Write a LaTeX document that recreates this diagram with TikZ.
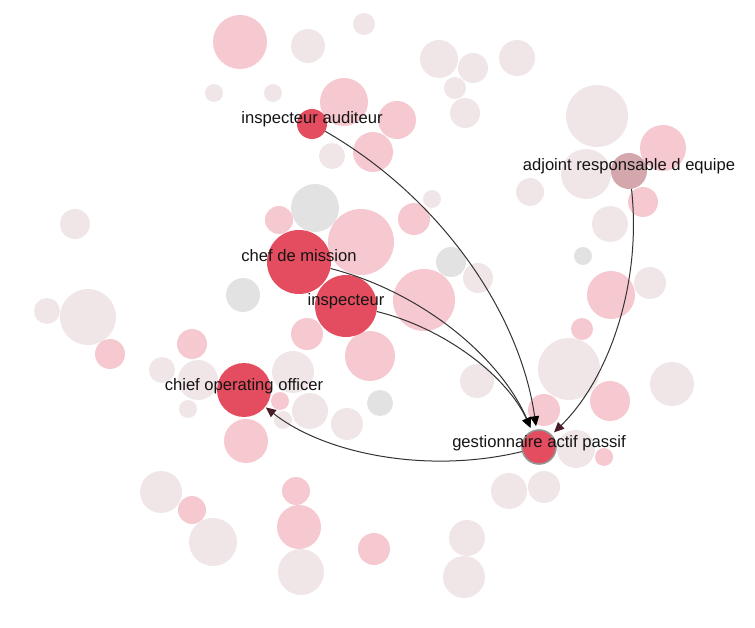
\documentclass[tikz,border=0pt]{standalone}
\usepackage{fontspec}
\setmainfont{Liberation Sans}
\usetikzlibrary{arrows.meta}
\definecolor{bubbleRed}{HTML}{E44D5F}
\definecolor{bubblePink}{HTML}{F6C8CF}
\definecolor{bubblePale}{HTML}{F0E6E8}
\definecolor{bubbleGrey}{HTML}{E2E2E2}
\definecolor{bubbleMauve}{HTML}{D4A7AC}
\definecolor{linkDark}{HTML}{333333}
\definecolor{tipMaroon}{HTML}{4A1C26}

\begin{document}
\begin{tikzpicture}[x=1pt,y=-1pt,
    role/.style={circle,fill=bubbleRed,inner sep=0pt,minimum size=#1},
    rolelabel/.style={anchor=base,inner sep=0pt,text=black!92,font=\fontsize{16.6}{19}\selectfont},
    link/.style={draw=linkDark,line width=1pt,bend left=26,looseness=.9,shorten >=21pt,
      -{Triangle[length=10pt,width=9pt,color=black]}},
    warmlink/.style={link,-{Triangle[length=10pt,width=9pt,color=tipMaroon]}}]
    \useasboundingbox (0,0) rectangle (755,628);
    % pale bubbles
    \fill[bubblePale] (308,46) circle[radius=17];
    \fill[bubblePale] (364,24) circle[radius=11];
    \fill[bubblePale] (214,93) circle[radius=9];
    \fill[bubblePale] (273,93) circle[radius=9];
    \fill[bubblePale] (332,156) circle[radius=13];
    \fill[bubblePale] (439,59) circle[radius=19];
    \fill[bubblePale] (473,68) circle[radius=15];
    \fill[bubblePale] (455,88) circle[radius=11];
    \fill[bubblePale] (465,113) circle[radius=15];
    \fill[bubblePale] (517,58) circle[radius=18];
    \fill[bubblePale] (597,116) circle[radius=31];
    \fill[bubblePale] (432,199) circle[radius=9];
    \fill[bubblePale] (478,278) circle[radius=15];
    \fill[bubblePale] (530,192) circle[radius=14];
    \fill[bubblePale] (586,174) circle[radius=25];
    \fill[bubblePale] (610,224) circle[radius=18];
    \fill[bubblePale] (650,283) circle[radius=16];
    \fill[bubblePale] (569,369) circle[radius=31];
    \fill[bubblePale] (672,384) circle[radius=22];
    \fill[bubblePale] (477,381) circle[radius=17];
    \fill[bubblePale] (576,449) circle[radius=19];
    \fill[bubblePale] (509,491) circle[radius=18];
    \fill[bubblePale] (544,487) circle[radius=16];
    \fill[bubblePale] (467,538) circle[radius=18];
    \fill[bubblePale] (464,577) circle[radius=21];
    \fill[bubblePale] (75,224) circle[radius=15];
    \fill[bubblePale] (88,317) circle[radius=28];
    \fill[bubblePale] (47,311) circle[radius=13];
    \fill[bubblePale] (162,370) circle[radius=13];
    \fill[bubblePale] (198,380) circle[radius=20];
    \fill[bubblePale] (188,409) circle[radius=9];
    \fill[bubblePale] (293,372) circle[radius=21];
    \fill[bubblePale] (310,411) circle[radius=18];
    \fill[bubblePale] (347,424) circle[radius=16];
    \fill[bubblePale] (283,420) circle[radius=9];
    \fill[bubblePale] (161,492) circle[radius=21];
    \fill[bubblePale] (213,542) circle[radius=24];
    \fill[bubblePale] (301,572) circle[radius=23];
    % pink bubbles
    \fill[bubblePink] (240,42) circle[radius=27];
    \fill[bubblePink] (344,102) circle[radius=24];
    \fill[bubblePink] (397,120) circle[radius=19];
    \fill[bubblePink] (373,152) circle[radius=20];
    \fill[bubblePink] (279,220) circle[radius=14];
    \fill[bubblePink] (361,242) circle[radius=33];
    \fill[bubblePink] (414,219) circle[radius=16];
    \fill[bubblePink] (424,300) circle[radius=31];
    \fill[bubblePink] (307,334) circle[radius=16];
    \fill[bubblePink] (370,356) circle[radius=25];
    \fill[bubblePink] (192,344) circle[radius=15];
    \fill[bubblePink] (110,354) circle[radius=15];
    \fill[bubblePink] (280,401) circle[radius=9];
    \fill[bubblePink] (246,441) circle[radius=22];
    \fill[bubblePink] (663,148) circle[radius=23];
    \fill[bubblePink] (643,202) circle[radius=15];
    \fill[bubblePink] (611,295) circle[radius=24];
    \fill[bubblePink] (582,329) circle[radius=11];
    \fill[bubblePink] (544,410) circle[radius=16];
    \fill[bubblePink] (610,401) circle[radius=20];
    \fill[bubblePink] (604,457) circle[radius=9];
    \fill[bubblePink] (192,510) circle[radius=14];
    \fill[bubblePink] (296,491) circle[radius=14];
    \fill[bubblePink] (299,527) circle[radius=22];
    \fill[bubblePink] (374,549) circle[radius=16];
    % grey bubbles
    \fill[bubbleGrey] (315,208) circle[radius=24];
    \fill[bubbleGrey] (243,295) circle[radius=17];
    \fill[bubbleGrey] (451,262) circle[radius=15];
    \fill[bubbleGrey] (380,403) circle[radius=13];
    \fill[bubbleGrey] (583,256) circle[radius=9];

    % roles
    \node[role=30pt] (auditeur) at (312,124) {};
    \node[role=64pt] (chef) at (299,262) {};
    \node[role=62pt] (inspecteur) at (346,306) {};
    \node[role=54pt] (coo) at (244,390) {};
    \node[role=36pt,fill=bubbleMauve] (adjoint) at (629,171) {};
    \node[role=34pt,draw=black!42,line width=1.6pt] (gestion) at (539,447) {};

    % links
    \draw[link] (auditeur) to (gestion.center);
    \draw[link] (chef) to (gestion.center);
    \draw[link] (inspecteur) to (gestion.center);
    \draw[warmlink] (adjoint) to (gestion.center);
    \draw[warmlink,shorten >=28pt] (gestion) to (coo.center);

    % labels
    \node[rolelabel] (auditeurLbl) at (auditeur.center) {inspecteur auditeur};
    \node[rolelabel] (chefLbl) at (chef.center) {chef de mission};
    \node[rolelabel] (inspecteurLbl) at (inspecteur.center) {inspecteur};
    \node[rolelabel] (cooLbl) at (coo.center) {chief operating officer};
    \node[rolelabel] (adjointLbl) at (adjoint.center) {adjoint responsable d equipe};
    \node[rolelabel] (gestionLbl) at (gestion.center) {gestionnaire actif passif};
\end{tikzpicture}
\end{document}
